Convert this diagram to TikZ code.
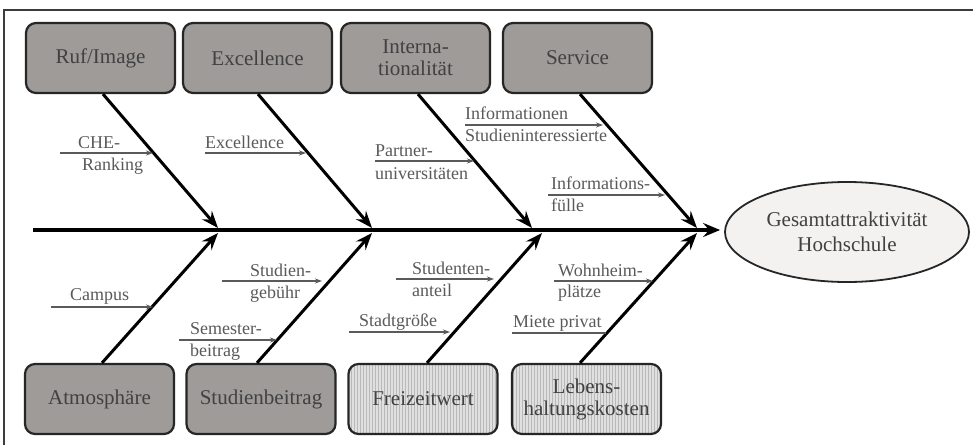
\documentclass[tikz,border=0pt]{standalone}
\usepackage{fontspec}
\newfontfamily\tnr{LiberationSerif}[Extension=.ttf, UprightFont=*-Regular]
\usetikzlibrary{arrows.meta,shapes.geometric,patterns}
\definecolor{boxdark}{RGB}{158,155,153}
\definecolor{boxlight}{RGB}{224,224,224}
\definecolor{stripe}{RGB}{185,185,185}
\definecolor{txtgray}{RGB}{65,65,65}
\definecolor{lblgray}{RGB}{90,90,90}
\definecolor{ellfill}{RGB}{243,242,240}
\definecolor{framec}{RGB}{60,60,60}
\begin{document}
\begin{tikzpicture}[x=1pt,y=-1pt,
 cause/.style={draw=black!85, line width=2.2pt, rounded corners=10pt, minimum width=149pt, minimum height=70pt, align=center, text=txtgray, font=\tnr\fontsize{21}{22}\selectfont, inner sep=2pt},
 darkbox/.style={cause, fill=boxdark},
 lightbox/.style={cause, preaction={fill=boxlight}, pattern=vertical lines, pattern color=stripe},
 bone/.style={line width=3pt, -{Stealth[length=17pt,width=13pt,inset=6pt]}},
 spine/.style={line width=3.5pt, -{Stealth[length=17pt,width=14pt,inset=6pt]}},
 sub/.style={draw=lblgray, line width=1.5pt, -{Stealth[length=7pt,width=5pt]}},
 subplain/.style={draw=lblgray, line width=1.5pt},
 lbl/.style={anchor=base west, text=lblgray, font=\tnr\fontsize{18}{20}\selectfont, inner sep=0pt},
]
\useasboundingbox (0,0) rectangle (973,444);
\fill[white] (0,0) rectangle (973,444);
\draw[framec, line width=1.5pt] (4,450) -- (4,10) -- (980,10);

% cause boxes
\node[darkbox] (ruf) at (100.5,58) {Ruf/Image};
\node[darkbox] (exc) at (257.5,58) {Excellence};
\node[darkbox] (int) at (415.5,58) {Interna-\\tionalität};
\node[darkbox] (srv) at (577.5,58) {Service};
\node[darkbox] (atm) at (99.5,399) {Atmosphäre};
\node[darkbox] (stb) at (261,399) {Studienbeitrag};
\node[lightbox] (frz) at (423,399) {Freizeitwert};
\node[lightbox] (leb) at (586.5,399) {Lebens-\\haltungskosten};

% effect
\node[ellipse, draw=black!85, line width=1.8pt, fill=ellfill, minimum width=244pt, minimum height=100pt, align=center, text=txtgray, font=\tnr\fontsize{21}{25}\selectfont] (goal) at (847,232) {Gesamtattraktivität\\Hochschule};

% spine
\coordinate (s0) at (33,230);
\draw[spine, shorten >=4pt] (s0) -- (goal.west |- s0);

% junctions
\coordinate (j1) at (218,228);
\coordinate (j2) at (372,228);
\coordinate (j3) at (532,228);
\coordinate (j4) at (697,228);
\coordinate (k1) at (218,233);
\coordinate (k2) at (372,233);
\coordinate (k3) at (542,233);
\coordinate (k4) at (697,233);

\draw[bone] ([xshift=2.5pt]ruf.south) -- (j1);
\draw[bone] ([xshift=0.5pt]exc.south) -- (j2);
\draw[bone] ([xshift=2.5pt]int.south) -- (j3);
\draw[bone] ([xshift=2.5pt]srv.south) -- (j4);
\draw[bone] ([xshift=2.5pt]atm.north) -- (k1);
\draw[bone] ([xshift=-4pt]stb.north) -- (k2);
\draw[bone] ([xshift=4pt]frz.north) -- (k3);
\draw[bone] ([xshift=-6.5pt]leb.north) -- (k4);

% sub-cause arrows
\coordinate (a1) at (60,153);  \coordinate (b1) at (153,153);
\coordinate (a2) at (205,153); \coordinate (b2) at (306,153);
\coordinate (a3) at (375,161); \coordinate (b3) at (474,161);
\coordinate (a4) at (465,125); \coordinate (b4) at (603,125);
\coordinate (a5) at (548,195); \coordinate (b5) at (665,195);
\coordinate (a6) at (51,307);  \coordinate (b6) at (153,307);
\coordinate (a7) at (222,281); \coordinate (b7) at (322,281);
\coordinate (a8) at (179,340); \coordinate (b8) at (277,340);
\coordinate (a9) at (396,279); \coordinate (b9) at (494,279);
\coordinate (a10) at (349,332); \coordinate (b10) at (450,332);
\coordinate (a11) at (554,281); \coordinate (b11) at (653,281);
\coordinate (a12) at (512,333); \coordinate (b12) at (606,333);
\foreach \i in {1,...,11} {\draw[sub] (a\i) -- (b\i);}
\draw[subplain] (a12) -- (b12);

% labels
\node[lbl] (l1a) at (78,148) {CHE-};
\node[lbl] (l1b) at (82,170) {Ranking};
\node[lbl] (l2) at (205,148) {Excellence};
\node[lbl] (l3a) at (375,156) {Partner-};
\node[lbl] (l3b) at (375,179) {universitäten};
\node[lbl] (l4a) at (465,119) {Informationen};
\node[lbl] (l4b) at (465,141) {Studieninteressierte};
\node[lbl] (l5a) at (551,189) {Informations-};
\node[lbl] (l5b) at (551,211) {fülle};
\node[lbl] (l6) at (70,300) {Campus};
\node[lbl] (l7a) at (250,276) {Studien-};
\node[lbl] (l7b) at (250,298) {gebühr};
\node[lbl] (l8a) at (190,334) {Semester-};
\node[lbl] (l8b) at (190,356) {beitrag};
\node[lbl] (l9a) at (412,274) {Studenten-};
\node[lbl] (l9b) at (412,296) {anteil};
\node[lbl] (l10) at (359,326) {Stadtgröße};
\node[lbl] (l11a) at (558,276) {Wohnheim-};
\node[lbl] (l11b) at (558,297) {plätze};
\node[lbl] (l12) at (513,327) {Miete privat};
\end{tikzpicture}
\end{document}
